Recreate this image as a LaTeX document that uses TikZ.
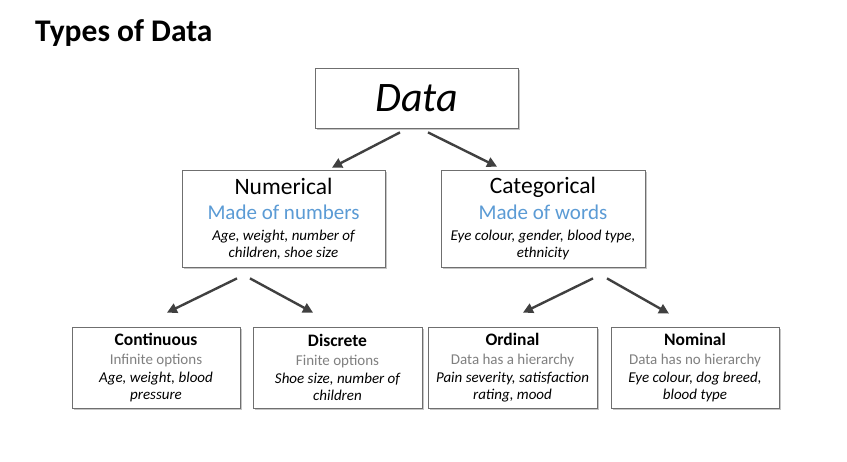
\documentclass[tikz,border=0pt]{standalone}
\usepackage{fontspec}
\setmainfont{Carlito}
\usepackage{tikz}
\usetikzlibrary{calc,shadows,arrows.meta}
\definecolor{madeblue}{HTML}{5B9BD5}
\definecolor{optgray}{HTML}{808080}
\definecolor{arrowgray}{HTML}{404040}
\definecolor{boxgray}{HTML}{6F6F6F}

\begin{document}
\begin{tikzpicture}[x=1pt, y=-1pt, every node/.style={inner sep=0pt},
    box/.style={draw=boxgray, line width=0.8pt, fill=white, align=center,
        drop shadow={shadow xshift=2pt, shadow yshift=-2pt, opacity=0.45, fill=gray}},
    topbox/.style={box, minimum width=203pt, minimum height=97pt, font=\fontsize{15}{28}\selectfont},
    lowbox/.style={box, minimum height=81pt, font=\fontsize{15}{18}\selectfont},
    arr/.style={draw=arrowgray, line width=2.4pt, -{Triangle[length=10pt,width=10pt]}}]
        \useasboundingbox (0, 0) rectangle (847, 462);
        \draw (35, 42) node(title)[anchor=base west, font=\bfseries\fontsize{31.5}{38}\selectfont]{Types of Data};
        \draw (416.5, 98) node(data)[box, minimum width=203pt, minimum height=60pt, font=\itshape\fontsize{42}{50}\selectfont]{Data};
        \draw (283.5, 218.5) node(num)[topbox]{{\fontsize{23.5}{28}\selectfont Numerical}\\[-2.3pt]
            {\color{madeblue}\fontsize{21}{25}\selectfont Made of numbers}\\[-7pt]
            {\itshape Age, weight, number of}\\[-11.4pt] {\itshape children, shoe size}};
        \draw (543, 218.5) node(cat)[topbox, minimum width=204pt]{{\fontsize{23.5}{28}\selectfont Categorical}\\[-2.3pt]
            {\color{madeblue}\fontsize{21}{25}\selectfont Made of words}\\[-7pt]
            {\itshape Eye colour, gender, blood type,}\\[-11.4pt] {\itshape ethnicity}};
        \draw (156, 367.5) node(cont)[lowbox, minimum width=168pt]{{\bfseries\fontsize{17.5}{21}\selectfont Continuous}\\[1pt]
            {\color{optgray}Infinite options}\\ {\itshape Age, weight, blood}\\[-1pt] {\itshape pressure}};
        \draw (337.5, 367.5) node(disc)[lowbox, minimum width=169pt]{{\bfseries\fontsize{17.5}{21}\selectfont Discrete}\\[1pt]
            {\color{optgray}Finite options}\\ {\itshape Shoe size, number of}\\[-1pt] {\itshape children}};
        \draw (512.5, 367.5) node(ord)[lowbox, minimum width=169pt]{{\bfseries\fontsize{17.5}{21}\selectfont Ordinal}\\[1pt]
            {\color{optgray}Data has a hierarchy}\\ {\itshape Pain severity, satisfaction}\\[-1pt] {\itshape rating, mood}};
        \draw (695, 367.5) node(nom)[lowbox, minimum width=168pt]{{\bfseries\fontsize{17.5}{21}\selectfont Nominal}\\[1pt]
            {\color{optgray}Data has no hierarchy}\\ {\itshape Eye colour, dog breed,}\\[-1pt] {\itshape blood type}};
        \draw[arr] ($(data.south)+(-16.5, 4)$) -- ($(num.north)+(48.5, -2)$);
        \draw[arr] ($(data.south)+(11.5, 4)$) -- ($(cat.north)+(-46, -3)$);
        \draw[arr] ($(num.south)+(-46.5, 11)$) -- ($(cont.north)+(11, -14)$);
        \draw[arr] ($(num.south)+(-33.5, 11)$) -- ($(disc.north)+(-24.5, -14)$);
        \draw[arr] ($(cat.south)+(50, 11)$) -- ($(ord.north)+(10.5, -14)$);
        \draw[arr] ($(cat.south)+(64, 11)$) -- ($(nom.north)+(-26, -13)$);
    \end{tikzpicture}
\end{document}
